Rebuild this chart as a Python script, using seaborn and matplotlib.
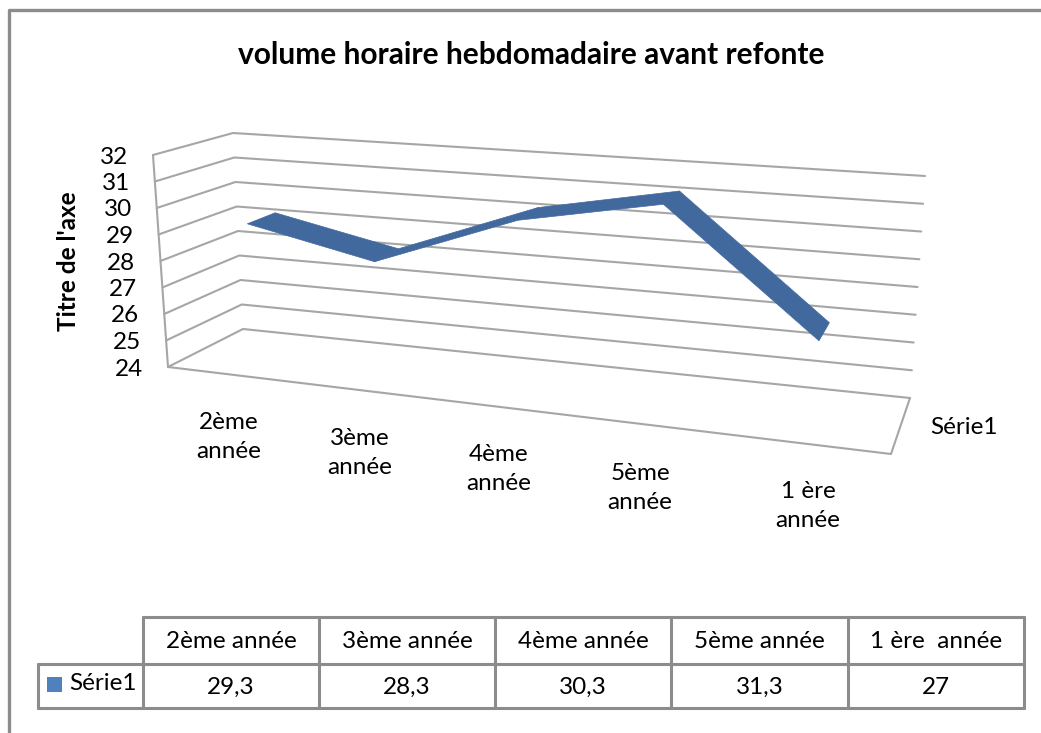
import numpy as np
import pandas as pd
import matplotlib
matplotlib.use("Agg")
import matplotlib.pyplot as plt
import seaborn as sns

# donnees du graphique
categories = ["2ème année", "3ème année", "4ème année", "5ème année", "1 ère  année"]
axis_labels = ["2ème\nannée", "3ème\nannée", "4ème\nannée", "5ème\nannée", "1 ère\nannée"]
values = [29.3, 28.3, 30.3, 31.3, 27]
value_labels = ["29,3", "28,3", "30,3", "31,3", "27"]
y_ticks = [24, 25, 26, 27, 28, 29, 30, 31, 32]
series_name = "Série1"

W, H = 1041, 733
GRID = "#a6a6a6"
BORDER = "#8c8c8c"
RIBBON = "#41699e"
FS = 17.5

# coins de la boite 3D (pixels) : (colonne, valeur, profondeur)
FL_B, FL_T = np.array([168, 367.]), np.array([153, 155.])
FR_B, FR_T = np.array([891, 454.]), np.array([901, 215.])
BL_B, BL_T = np.array([243, 329.]), np.array([233, 133.])
BR_B, BR_T = np.array([910, 398.]), np.array([925, 176.])

# position des categories le long de l'axe (perspective du graphique d'origine)
cat_pos = [0.09, 0.265, 0.465, 0.665, 0.885]
depth_front, depth_back = 0.31, 0.69


def project(u, val, w):
    v = (val - y_ticks[0]) / (y_ticks[-1] - y_ticks[0])
    front = (1 - u) * ((1 - v) * FL_B + v * FL_T) + u * ((1 - v) * FR_B + v * FR_T)
    back = (1 - u) * ((1 - v) * BL_B + v * BL_T) + u * ((1 - v) * BR_B + v * BR_T)
    return (1 - w) * front + w * back


def polyline(ax, pts, color=GRID, lw=1.5):
    pts = np.array(pts)
    df = pd.DataFrame({"x": pts[:, 0], "y": pts[:, 1]})
    sns.lineplot(data=df, x="x", y="y", estimator=None, sort=False, color=color, lw=lw,
                 solid_capstyle="round", ax=ax)


sns.set_theme(style="white")
plt.rcParams["font.family"] = ["Lato", "DejaVu Sans"]

fig = plt.figure(figsize=(W / 100, H / 100), dpi=100)
ax = fig.add_axes([0, 0, 1, 1])
ax.set_xlim(0, W)
ax.set_ylim(H, 0)
ax.axis("off")

# cadre exterieur (ouvert a droite)
polyline(ax, [(9, H), (9, 10), (W, 10)], color=BORDER, lw=2.4)

# lignes de grille : paroi gauche + paroi du fond
for t in y_ticks:
    polyline(ax, [project(0, t, 0), project(0, t, 1), project(1, t, 1)])
    ax.text(*(project(0, t, 0) + np.array([-25, 2])), str(t), ha="right", va="center",
            fontsize=FS, color="black")

# arete verticale et plancher
polyline(ax, [project(0, y_ticks[0], 0), project(0, y_ticks[-1], 0)])
polyline(ax, [project(0, y_ticks[0], 0), project(1, y_ticks[0], 0), project(1, y_ticks[0], 1)])

# ruban de la serie
front = [project(u, val, depth_front) for u, val in zip(cat_pos, values)]
back = [project(u, val, depth_back) for u, val in zip(cat_pos, values)]
for i in range(len(values) - 1):
    quad = np.array([front[i], front[i + 1], back[i + 1], back[i]])
    ax.fill(quad[:, 0], quad[:, 1], color=RIBBON, lw=0.5, zorder=3)

# etiquettes de l'axe des categories
label_xy = [(229, 437), (360, 453), (499, 469), (640, 488), (808, 506)]
for (x, y), lab in zip(label_xy, axis_labels):
    ax.text(x, y, lab, ha="center", va="center", fontsize=FS, linespacing=1.5, color="black")

ax.text(964, 428, series_name, ha="center", va="center", fontsize=FS, color="black")
ax.text(531, 55, "volume horaire hebdomadaire avant refonte", ha="center", va="center",
        fontsize=21.5, fontweight="bold", color="black")
ax.text(68, 261, "Titre de l'axe", rotation=90, ha="center", va="center",
        fontsize=17.5, fontweight="bold", color="black")

# table de donnees
col_x = [143, 319, 495, 671, 848, 1024]
row_y = [617, 664, 708]
polyline(ax, [(col_x[0], row_y[0]), (col_x[-1], row_y[0])], color=BORDER, lw=2.2)
polyline(ax, [(38, row_y[1]), (col_x[-1], row_y[1])], color=BORDER, lw=2.2)
polyline(ax, [(38, row_y[2]), (col_x[-1], row_y[2])], color=BORDER, lw=2.2)
polyline(ax, [(38, row_y[1]), (38, row_y[2])], color=BORDER, lw=2.2)
for x in col_x:
    polyline(ax, [(x, row_y[0]), (x, row_y[2])], color=BORDER, lw=2.2)
for i in range(len(categories)):
    cx = (col_x[i] + col_x[i + 1]) / 2
    ax.text(cx, 642, categories[i], ha="center", va="center", fontsize=FS, color="black")
    ax.text(cx, 687, value_labels[i], ha="center", va="center", fontsize=FS, color="black")
ax.fill([47, 62, 62, 47], [677, 677, 692, 692], color="#4f81bd", lw=0)
ax.text(69, 684, series_name, ha="left", va="center", fontsize=FS, color="black")

fig.savefig("out.png", dpi=100)
